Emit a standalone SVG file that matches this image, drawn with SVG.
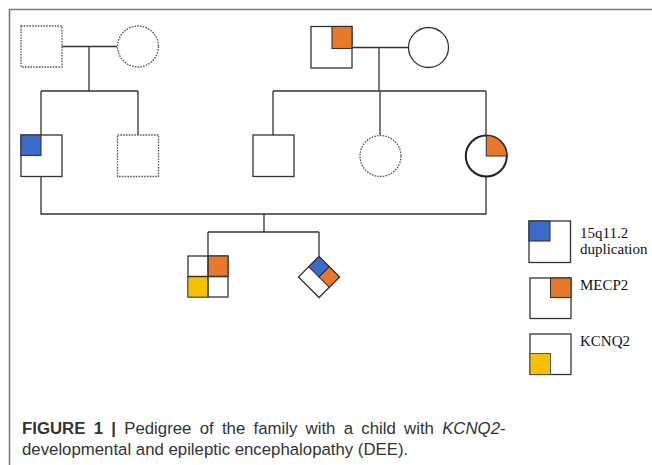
<svg xmlns="http://www.w3.org/2000/svg" width="652" height="465" viewBox="0 0 652 465">
<style>
.ln{fill:none;stroke:#333;stroke-width:1.3}
.sym{fill:#fff;stroke:#333;stroke-width:1.3}
.dash{fill:#fff;stroke:#555;stroke-width:1.3;stroke-dasharray:1.6 1.2}
.bl{fill:#3B6BC8;stroke:#333;stroke-width:1.1}
.or{fill:#E8792C;stroke:#333;stroke-width:1.1}
.ye{fill:#F7C000;stroke:#555;stroke-width:1}
.lt{font-family:"Liberation Serif","Times New Roman",serif;font-size:15px;fill:#111}
.cap{font-family:"Liberation Sans",Arial,sans-serif;font-size:16.8px;fill:#333}
.frame{fill:none;stroke:#7a7a7a;stroke-width:1.6}
</style>
<rect width="652" height="465" fill="#fff"/>
<path class="frame" d="M9.5,465 V9.5 H652"/>
<g id="connectors">
<path class="ln" d="M62,46.5 H117 M89,46.5 V91 M41,91 H138 M41,91 V135 M138,91 V135"/>
<path class="ln" d="M352,47.5 H408 M379,47.5 V91 M273,91 H486 M273,91 V135 M380,91 V135 M486,91 V135"/>
<path class="ln" d="M41,177 V214 H486 V176 M264,214 V232 M208,232 H319 M208,232 V256 M319,232 V257"/>
</g>
<g id="gf1"><rect class="dash" x="21" y="26" width="41" height="41"/></g>
<g id="gm1"><circle class="dash" cx="138" cy="46.5" r="20.5"/></g>
<g id="gf2"><rect class="sym" x="311" y="26.5" width="41" height="41.5"/><rect class="or" x="332" y="26.5" width="20" height="22"/></g>
<g id="gm2"><circle class="sym" cx="428.5" cy="47.5" r="20"/></g>
<g id="father"><rect class="sym" x="21" y="135" width="41" height="41.5"/><rect class="bl" x="21" y="135" width="20" height="20.5"/></g>
<g id="uncle1"><rect class="dash" x="117.5" y="135" width="41" height="41.5"/></g>
<g id="uncle2"><rect class="sym" x="253" y="135" width="41" height="41.5"/></g>
<g id="aunt"><circle class="dash" cx="380.5" cy="156" r="20.5"/></g>
<g id="mother"><circle cx="486.3" cy="156" r="20.5" fill="#fff" stroke="#222" stroke-width="2"/><path class="or" d="M486.3,156 V135.5 A20.5,20.5 0 0 1 506.8,156 Z"/></g>
<g id="proband"><rect class="sym" x="188" y="256" width="40" height="41"/><rect class="or" x="208" y="256" width="20" height="20.5"/><rect class="ye" x="188" y="276.5" width="20" height="20.5"/><path class="ln" d="M208,256 V297 M188,276.5 H228"/></g>
<g id="sibling"><g transform="translate(319,277) rotate(45)"><rect class="sym" x="-14.5" y="-14.5" width="29" height="29"/><rect class="bl" x="-14.5" y="-14.5" width="14.5" height="14.5"/><rect class="or" x="0" y="-14.5" width="14.5" height="14.5"/></g></g>
<g id="legend-dup"><rect class="sym" x="529" y="221" width="41.5" height="41.5"/><rect class="bl" x="529" y="221" width="21" height="20"/><text class="lt" x="580" y="238">15q11.2</text><text class="lt" x="580" y="254">duplication</text></g>
<g id="legend-mecp2"><rect class="sym" x="530" y="278" width="41" height="40.5"/><rect class="or" x="550.5" y="278" width="20.5" height="19.5"/><text class="lt" x="580" y="290">MECP2</text></g>
<g id="legend-kcnq2"><rect class="sym" x="530" y="334" width="41" height="40.5"/><rect class="ye" x="530" y="353.5" width="20.5" height="21"/><text class="lt" x="580" y="346">KCNQ2</text></g>
<text class="cap" x="22" y="434" word-spacing="3.6"><tspan font-weight="bold">FIGURE 1 |</tspan> Pedigree of the family with a child with <tspan font-style="italic">KCNQ2</tspan>-</text>
<text class="cap" x="22" y="455">developmental and epileptic encephalopathy (DEE).</text>
</svg>
